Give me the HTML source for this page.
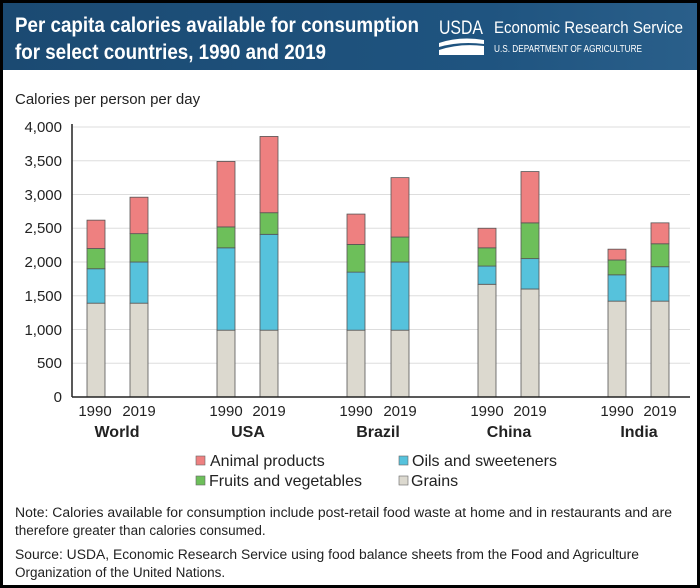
<!DOCTYPE html>
<html><head><meta charset="utf-8"><style>
html,body{margin:0;padding:0;background:#000;}
svg{display:block;font-family:"Liberation Sans",sans-serif;}
</style></head><body>
<svg id="s" width="700" height="588" viewBox="0 0 700 588" xmlns="http://www.w3.org/2000/svg">
<defs><linearGradient id="hg" x1="0" y1="0" x2="1" y2="0"><stop offset="0" stop-color="#1b4a72"/><stop offset="0.7" stop-color="#1f5480"/><stop offset="1" stop-color="#2a5f8a"/></linearGradient></defs>
<rect x="0" y="0" width="700" height="588" fill="#000"/>
<rect x="3" y="3" width="694" height="582" fill="#fff"/>
<rect x="3" y="3" width="694" height="67" fill="url(#hg)"/>
<g fill="#fff" font-family="'Liberation Sans Narrow','Liberation Sans',sans-serif" font-weight="bold" font-size="21">
<text x="15" y="32" textLength="404" lengthAdjust="spacingAndGlyphs">Per capita calories available for consumption</text>
<text x="15" y="59" textLength="311" lengthAdjust="spacingAndGlyphs">for select countries, 1990 and 2019</text>
</g>
<g fill="#fff" font-family="'Liberation Sans Narrow','Liberation Sans',sans-serif">
<text x="439" y="34" font-size="19" textLength="44" lengthAdjust="spacingAndGlyphs">USDA</text>
<path d="M439 43 Q460 36 484 40 L484 44 Q460 41 439 47Z M439 50 Q460 43 484 46 L484 55 L439 55Z"/>
<text x="494" y="33" font-size="17" textLength="189" lengthAdjust="spacingAndGlyphs">Economic Research Service</text>
<text x="494" y="52" font-size="10" textLength="148" lengthAdjust="spacingAndGlyphs">U.S. DEPARTMENT OF AGRICULTURE</text>
</g>
<text x="15" y="104" font-size="15" fill="#222">Calories per person per day</text>
<g id="grid" stroke="#ddd" stroke-width="1"></g>
<g id="bars" stroke="#555" stroke-width="0.8"></g>
<line x1="72" y1="124" x2="72" y2="397" stroke="#222" stroke-width="1.5"/>
<line x1="72" y1="397" x2="690" y2="397" stroke="#222" stroke-width="1.5"/>
<g font-size="15" fill="#222" text-anchor="end">
<text x="62" y="132">4,000</text><text x="62" y="166">3,500</text><text x="62" y="200">3,000</text><text x="62" y="233">2,500</text><text x="62" y="267">2,000</text><text x="62" y="301">1,500</text><text x="62" y="335">1,000</text><text x="62" y="368">500</text><text x="62" y="402">0</text>
</g>
<g font-size="15" fill="#222" text-anchor="middle" id="xl">
<text x="95" y="416">1990</text><text x="139" y="416">2019</text>
<text x="226" y="416">1990</text><text x="269" y="416">2019</text>
<text x="356" y="416">1990</text><text x="400" y="416">2019</text>
<text x="487" y="416">1990</text><text x="530" y="416">2019</text>
<text x="617" y="416">1990</text><text x="660" y="416">2019</text>
</g>
<g font-size="16" font-weight="bold" fill="#222" text-anchor="middle">
<text x="117" y="437">World</text><text x="248" y="437">USA</text><text x="378" y="437">Brazil</text><text x="509" y="437">China</text><text x="639" y="437">India</text>
</g>
<g font-size="16" fill="#222">
<rect x="196" y="456" width="9" height="9" fill="#ee8080" stroke="#666" stroke-width="0.6"/><text x="210" y="466">Animal products</text>
<rect x="399" y="456" width="9" height="9" fill="#56c2dc" stroke="#666" stroke-width="0.6"/><text x="412" y="466">Oils and sweeteners</text>
<rect x="196" y="476" width="9" height="9" fill="#6dbf5a" stroke="#666" stroke-width="0.6"/><text x="209" y="486">Fruits and vegetables</text>
<rect x="399" y="476" width="9" height="9" fill="#dcd9cf" stroke="#666" stroke-width="0.6"/><text x="411" y="486">Grains</text>
</g>
<g font-size="13.5" fill="#222">
<text x="15" y="517" textLength="657" lengthAdjust="spacingAndGlyphs">Note: Calories available for consumption include post-retail food waste at home and in restaurants and are</text>
<text x="15" y="535">therefore greater than calories consumed.</text>
<text x="15" y="559" textLength="624" lengthAdjust="spacingAndGlyphs">Source: USDA, Economic Research Service using food balance sheets from the Food and Agriculture</text>
<text x="15" y="577">Organization of the United Nations.</text>
</g>
</svg>
<script>
var ns="http://www.w3.org/2000/svg";
function y(v){return 397-v*0.0675;}
var g=document.getElementById("grid");
for(var v=500;v<=4000;v+=500){var l=document.createElementNS(ns,"line");l.setAttribute("x1",72);l.setAttribute("x2",690);l.setAttribute("y1",y(v));l.setAttribute("y2",y(v));g.appendChild(l);}
var data=[[87,1390,1900,2200,2620],[130,1390,2000,2420,2960],[217,990,2210,2520,3490],[260,990,2410,2730,3860],[347,990,1850,2260,2710],[391,990,2000,2370,3250],[478,1670,1940,2210,2500],[521,1600,2050,2580,3340],[608,1420,1810,2030,2190],[651,1420,1930,2270,2580]];
var cols=["#dcd9cf","#56c2dc","#6dbf5a","#ee8080"];
var b=document.getElementById("bars");
data.forEach(function(d){var prev=0;for(var i=0;i<4;i++){var r=document.createElementNS(ns,"rect");r.setAttribute("x",d[0]);r.setAttribute("width",18);r.setAttribute("y",y(d[i+1]));r.setAttribute("height",y(prev)-y(d[i+1]));r.setAttribute("fill",cols[i]);b.appendChild(r);prev=d[i+1];}});
</script>
</body></html>
